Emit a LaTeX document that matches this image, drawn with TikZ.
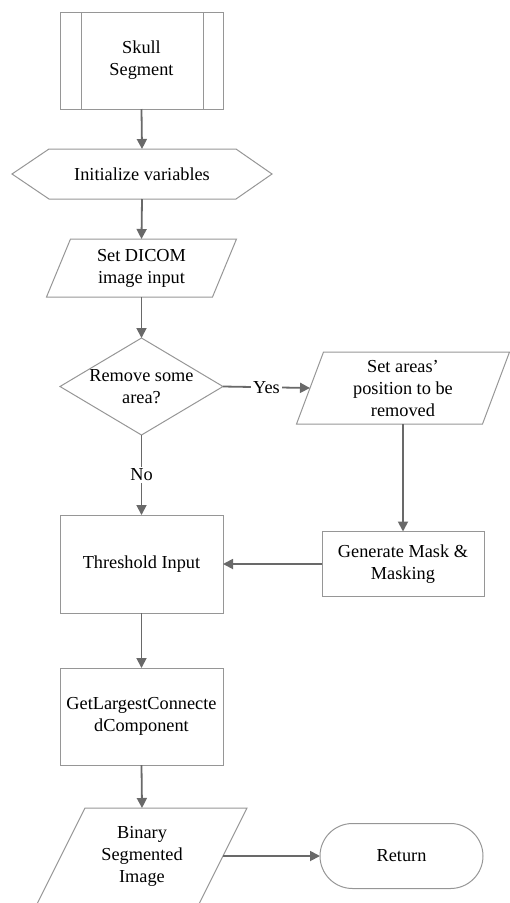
\documentclass[tikz,border=0pt]{standalone}
\usepackage{fontspec}
\setmainfont{Liberation Serif}
\usetikzlibrary{arrows.meta}
\definecolor{shapegray}{RGB}{150,150,150}
\definecolor{arrowgray}{RGB}{105,105,105}
\begin{document}
\begin{tikzpicture}[x=1pt,y=-1pt,
  every node/.style={font=\fontsize{18.3}{22}\selectfont, align=center, inner sep=0pt, outer sep=0pt},
  holder/.style={rectangle, minimum width=#1},
  outline/.style={draw=shapegray, line width=1pt},
  procbox/.style={rectangle, draw=shapegray, line width=1pt},
  conn/.style={draw=arrowgray, line width=1.8pt, -{Triangle[width=10pt,length=10pt]}},
  lab/.style={fill=white, inner sep=2pt}]
\useasboundingbox (0,0) rectangle (510,903);

% nodes
\node[procbox, minimum width=163pt, minimum height=97pt] (skull) at (141.5,60.5) {Skull\\Segment};
\draw[outline] ([xshift=21pt]skull.north west) -- ([xshift=21pt]skull.south west);
\draw[outline] ([xshift=-20pt]skull.north east) -- ([xshift=-20pt]skull.south east);

\node[holder=260pt, minimum height=50pt] (init) at (142,174) {Initialize variables};
\draw[outline] (init.west) -- ([xshift=37pt]init.north west) -- ([xshift=-36pt]init.north east) -- (init.east) -- ([xshift=-36pt]init.south east) -- ([xshift=37pt]init.south west) -- cycle;

\node[holder=166pt, minimum height=58pt] (dicom) at (141.5,268) {Set DICOM\\image input};
\draw[outline] ([xshift=12pt]dicom.north west) -- ([xshift=12pt]dicom.north east) -- ([xshift=-12pt]dicom.south east) -- ([xshift=-12pt]dicom.south west) -- cycle;

\node[holder=163pt, minimum height=97pt] (dec) at (141.5,386.5) {Remove some\\area?};
\draw[outline] (dec.north) -- (dec.east) -- (dec.south) -- (dec.west) -- cycle;

\node[holder=186pt, minimum height=72pt] (areas) at (403,388) {Set areas’\\position to be\\removed};
\draw[outline] ([xshift=13.5pt]areas.north west) -- ([xshift=13.5pt]areas.north east) -- ([xshift=-13.5pt]areas.south east) -- ([xshift=-13.5pt]areas.south west) -- cycle;

\node[procbox, minimum width=162pt, minimum height=65pt] (gen) at (403,564) {Generate Mask \&\\Masking};

\node[procbox, minimum width=163pt, minimum height=98pt] (thresh) at (141.5,564) {Threshold Input};

\node[procbox, minimum width=163pt, minimum height=97pt] (getl) at (141.5,716.5) {GetLargestConnecte\\dComponent};

\node[holder=162pt, minimum height=96pt] (binary) at (142,856) {Binary\\Segmented\\Image};
\draw[outline] ([xshift=24pt]binary.north west) -- ([xshift=24pt]binary.north east) -- ([xshift=-24pt]binary.south east) -- ([xshift=-24pt]binary.south west) -- cycle;

\node[procbox, rounded corners=32.5pt, minimum width=163pt, minimum height=65pt] (ret) at (401.5,856) {Return};

% connectors
\draw[conn] (skull.south) -- (init.north);
\draw[conn] (init.south) -- (dicom.north);
\draw[conn] (dicom.south) -- (dec.north);
\draw[conn] (dec.east) -- node[lab] (yes) {Yes} (areas.west);
\draw[conn] (dec.south) -- node[lab] (no) {No} (thresh.north);
\draw[conn] (areas.south) -- (gen.north);
\draw[conn] (gen.west) -- (thresh.east);
\draw[conn] (thresh.south) -- (getl.north);
\draw[conn] (getl.south) -- (binary.north);
\draw[conn] (binary.east) -- (ret.west);
\end{tikzpicture}
\end{document}
